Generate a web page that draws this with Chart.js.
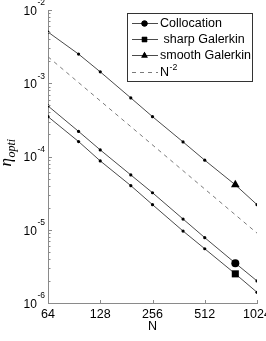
<!DOCTYPE html>
<html>
<head>
<meta charset="utf-8">
<script src="https://cdn.jsdelivr.net/npm/chart.js@4.4.0/dist/chart.umd.min.js"></script>
<style>
html,body{margin:0;padding:0;background:#fff;}
#wrap{width:266px;height:341px;position:relative;}
</style>
</head>
<body>
<div id="wrap"><canvas id="c" width="266" height="341"></canvas></div>
<script>
// ---- data ----
const N = [64, 96, 128, 192, 256, 384, 512, 768, 1024];
const collocation = [4.9e-4, 2.2e-4, 1.23e-4, 5.6e-5, 3.2e-5, 1.4e-5, 7.8e-6, 3.5e-6, 2.0e-6];
const sharpGalerkin = [3.5e-4, 1.6e-4, 8.7e-5, 4.0e-5, 2.2e-5, 9.6e-6, 5.5e-6, 2.5e-6, 1.4e-6];
const smoothGalerkin = [5.0e-3, 2.5e-3, 1.43e-3, 6.3e-4, 3.5e-4, 1.58e-4, 8.9e-5, 4.1e-5, 2.2e-5];
const refN = [64, 1024];
const refValues = [2.3e-3, 9.0e-6];
const xTicks = [64, 128, 256, 512, 1024];
const yTickExponents = [-2, -3, -4, -5, -6];
const seriesLabels = ['Collocation', ' sharp Galerkin', 'smooth Galerkin', 'N^-2'];
const markerN = 768;

const markerIdx = N.indexOf(markerN);
function pts(xs, ys){ return xs.map((x,i)=>({x:x, y:ys[i]})); }
function radii(big){ return N.map((n,i)=> i===markerIdx ? big : 1.6); }
function styles(st){ return N.map((n,i)=> i===markerIdx ? st : 'circle'); }

const lineCol = '#4a4a4a';
const axisCol = '#8a8a8a';

function mkSeries(label, vals, style, big){
  return {
    label: label, data: pts(N, vals),
    borderColor: lineCol, borderWidth: 1,
    pointRadius: radii(big), pointStyle: styles(style),
    pointBackgroundColor: '#000', pointBorderColor: '#000', pointBorderWidth: 0,
    legendStyle: style, legendRadius: big
  };
}

const datasets = [
  mkSeries(seriesLabels[0], collocation, 'circle', 4),
  mkSeries(seriesLabels[1], sharpGalerkin, 'rect', 5),
  mkSeries(seriesLabels[2], smoothGalerkin, 'triangle', 5),
  {
    label: seriesLabels[3], data: pts(refN, refValues),
    borderColor: '#7a7a7a', borderWidth: 1, borderDash: [4, 4],
    pointRadius: 0, legendStyle: null
  }
];

function drawRich(ctx, text, x, y, size, family){
  const parts = text.split('^');
  ctx.textBaseline = 'middle';
  ctx.textAlign = 'left';
  ctx.font = size + 'px ' + family;
  ctx.fillText(parts[0], x, y);
  if (parts.length > 1) {
    const w = ctx.measureText(parts[0]).width;
    ctx.font = (size*0.7) + 'px ' + family;
    ctx.fillText(parts[1], x + w + 0.5, y - 5);
  }
}

const decorPlugin = {
  id: 'decor',
  afterDatasetsDraw(chart) {
    const ctx = chart.ctx;
    const xs = chart.scales.x, ys = chart.scales.y;
    const ca = chart.chartArea;
    ctx.save();
    ctx.strokeStyle = axisCol; ctx.lineWidth = 1;
    ctx.beginPath();
    xTicks.forEach(v => {
      const px = Math.round(xs.getPixelForValue(v)) + 0.5;
      ctx.moveTo(px, ca.bottom); ctx.lineTo(px, ca.bottom - 3);
    });
    yTickExponents.forEach(k => {
      const py = Math.round(ys.getPixelForValue(Math.pow(10, k))) + 0.5;
      ctx.moveTo(ca.left, py); ctx.lineTo(ca.left + 4, py);
      if (k > -6) {
        for (let m = 2; m <= 9; m++) {
          const v = m * Math.pow(10, k - 1);
          const pm = Math.round(ys.getPixelForValue(v)) + 0.5;
          ctx.moveTo(ca.left, pm); ctx.lineTo(ca.left + 2.5, pm);
        }
      }
    });
    ctx.stroke();

    ctx.fillStyle = '#000';
    yTickExponents.forEach(k => {
      const py = ys.getPixelForValue(Math.pow(10, k));
      ctx.font = '8.5px "Liberation Sans", Arial, sans-serif';
      ctx.textAlign = 'right'; ctx.textBaseline = 'middle';
      const sup = String(k);
      const sw = ctx.measureText(sup).width;
      const right = ca.left - 3;
      ctx.fillText(sup, right, py - 7);
      ctx.font = '12px "Liberation Sans", Arial, sans-serif';
      ctx.fillText('10', right - sw - 0.5, py + 1.5);
    });

    ctx.save();
    ctx.translate(11, 153);
    ctx.rotate(-Math.PI/2);
    ctx.textBaseline = 'alphabetic'; ctx.textAlign = 'left';
    ctx.font = 'italic 17px "Liberation Serif", "DejaVu Serif", serif';
    const etaW = ctx.measureText('\u03B7').width;
    ctx.font = 'italic 12px "Liberation Serif", "DejaVu Serif", serif';
    const subW = ctx.measureText('opti').width;
    const start = -(etaW + subW) / 2;
    ctx.font = 'italic 17px "Liberation Serif", "DejaVu Serif", serif';
    ctx.fillText('\u03B7', start, 0);
    ctx.font = 'italic 12px "Liberation Serif", "DejaVu Serif", serif';
    ctx.fillText('opti', start + etaW + 0.5, 4);
    ctx.restore();

    const bx = 127.5, by = 13.5, bw = 125, bh = 68;
    ctx.fillStyle = '#fff';
    ctx.fillRect(bx, by, bw, bh);
    ctx.strokeStyle = '#333'; ctx.lineWidth = 1; ctx.setLineDash([]);
    ctx.strokeRect(bx, by, bw, bh);
    const rowsY = [23, 39, 55, 72];
    chart.data.datasets.forEach((ds, i) => {
      const yy = rowsY[i];
      ctx.save();
      ctx.strokeStyle = ds.borderColor; ctx.lineWidth = 1;
      if (ds.borderDash) ctx.setLineDash(ds.borderDash);
      ctx.beginPath(); ctx.moveTo(132, yy + 0.5); ctx.lineTo(158, yy + 0.5); ctx.stroke();
      ctx.restore();
      if (ds.legendStyle) {
        ctx.fillStyle = '#000';
        Chart.helpers.drawPoint(ctx, {pointStyle: ds.legendStyle, radius: ds.legendRadius * 0.75, borderWidth: 0, rotation: 0}, 144.5, yy + 0.5);
        ctx.fill();
      }
      ctx.fillStyle = '#000';
      drawRich(ctx, ds.label, 160, yy + 0.5, 12.5, '"Liberation Sans", Arial, sans-serif');
    });
    ctx.restore();
  }
};

new Chart(document.getElementById('c'), {
  type: 'line',
  data: { datasets: datasets },
  options: {
    responsive: false,
    animation: false,
    events: [],
    layout: { padding: { top: 10, right: 9, left: 0, bottom: 0 } },
    plugins: { legend: { display: false }, tooltip: { enabled: false } },
    scales: {
      x: {
        type: 'logarithmic', min: 64, max: 1024,
        afterBuildTicks: (s) => { s.ticks = xTicks.map(v => ({ value: v })); },
        afterFit: (s) => { s.height = 38; s.paddingLeft = 0; s.paddingRight = 0; },
        ticks: {
          autoSkip: false, maxRotation: 0, minRotation: 0, padding: 4,
          color: '#000', font: { family: '"Liberation Sans", Arial, sans-serif', size: 12.5 },
          callback: (v) => String(v)
        },
        grid: { display: false, drawTicks: false },
        border: { display: true, color: axisCol, width: 1 },
        title: { display: true, text: 'N', color: '#000', padding: { top: 0, bottom: 7 },
                 font: { family: '"Liberation Sans", Arial, sans-serif', size: 12.5 } }
      },
      y: {
        type: 'logarithmic', min: 1e-6, max: 1e-2,
        afterBuildTicks: (s) => { s.ticks = yTickExponents.map(k => ({ value: Math.pow(10, k) })); },
        afterFit: (s) => { s.width = 48; s.paddingTop = 0; s.paddingBottom = 0; },
        ticks: { display: false },
        grid: { display: false, drawTicks: false },
        border: { display: true, color: axisCol, width: 1 }
      }
    }
  },
  plugins: [decorPlugin]
});
</script>
</body>
</html>
